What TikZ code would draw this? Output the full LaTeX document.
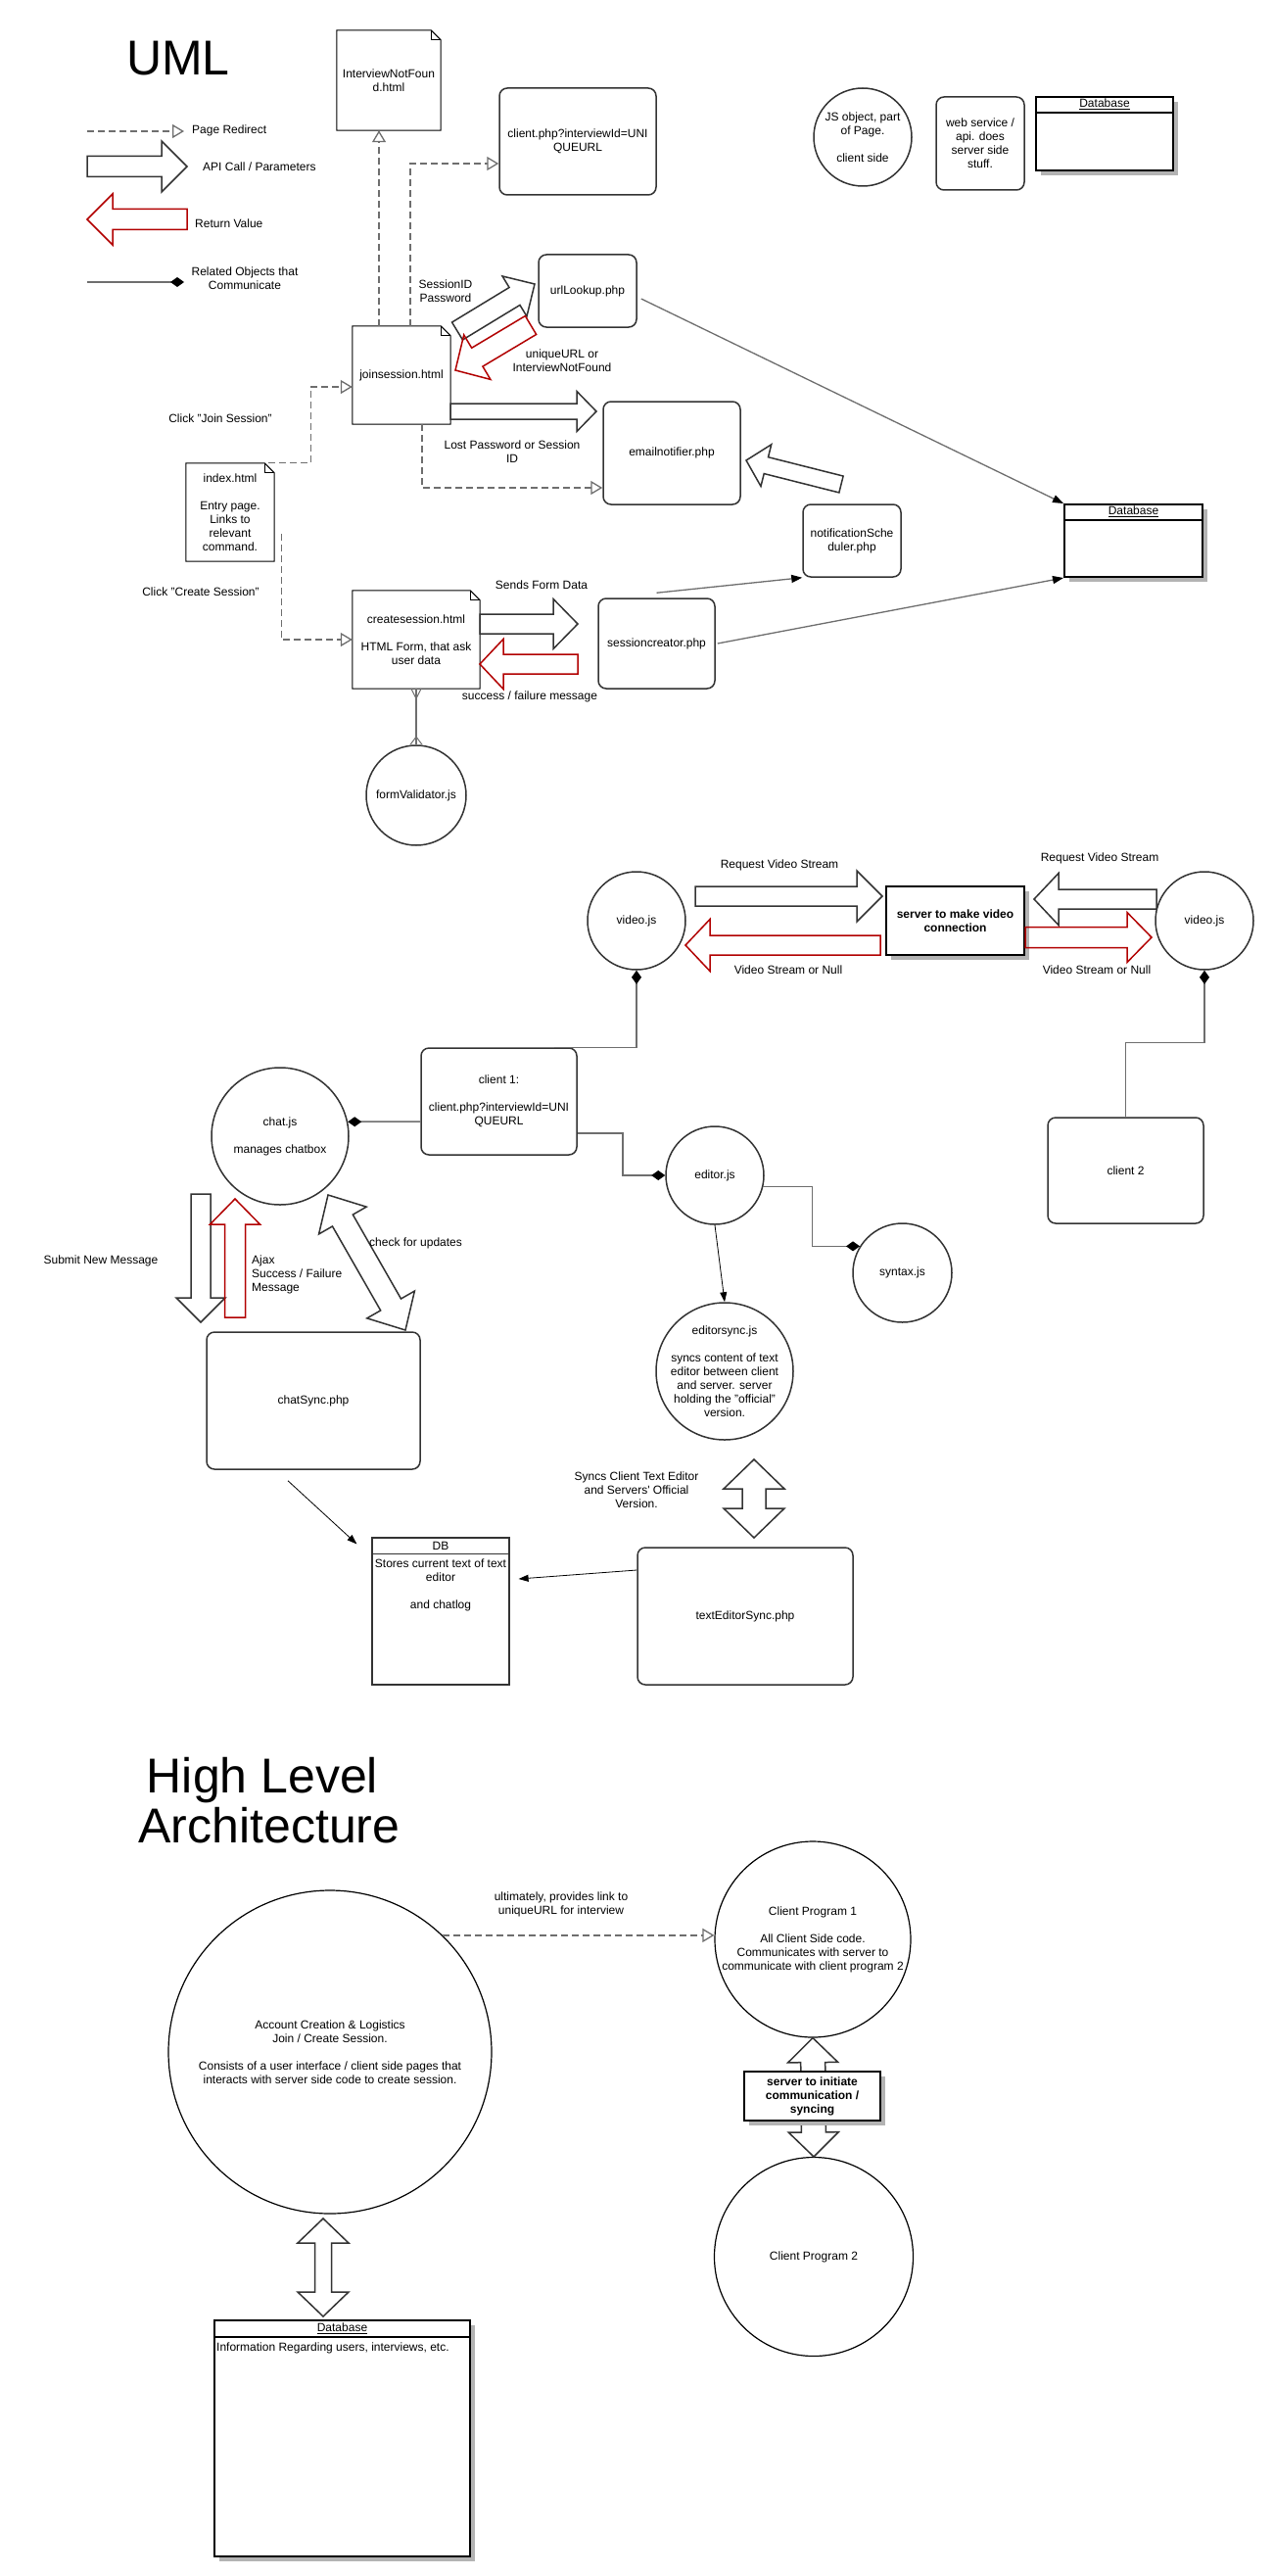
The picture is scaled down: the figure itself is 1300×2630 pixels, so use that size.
\documentclass[tikz,border=0pt]{standalone}
\usepackage{fontspec}
\setmainfont{Liberation Sans}
\usetikzlibrary{arrows.meta,calc,shadows}

\definecolor{boxline}{RGB}{51,51,51}
\definecolor{linegray}{RGB}{110,110,110}
\definecolor{retred}{RGB}{178,0,0}
\definecolor{shade}{RGB}{179,179,179}

\tikzset{
  service/.style={draw=boxline, line width=1.5pt, rounded corners=8pt, fill=white},
  page/.style={inner sep=0pt},
  noteline/.style={draw=black, line width=1pt},
  jsobj/.style={circle, draw=boxline, line width=1.5pt},
  bigcircle/.style={circle, draw=black, line width=1.2pt},
  dbbox/.style={draw=black, line width=2pt, fill=white,
    drop shadow={shadow xshift=5pt, shadow yshift=-5pt, fill=shade, opacity=1}},
  serverbox/.style={dbbox, font=\fontsize{12}{14}\selectfont\bfseries},
  plainbox/.style={draw=boxline, line width=1.2pt},
  redirect/.style={draw=linegray, line width=1.3pt, dash pattern=on 7pt off 4pt,
    -{Triangle[open, length=12pt, width=14pt, fill=white]}},
  related/.style={draw=linegray, line width=1.5pt,
    -{Diamond[length=14pt, width=10pt, color=black, fill=black]}},
  feed/.style={draw=linegray, line width=1.3pt, -{Triangle[length=11pt, width=8pt, color=black]}},
  thinarrow/.style={draw=black, line width=0.8pt, -{Triangle[length=10pt, width=7pt]}},
  apiarrow/.style={draw=boxline, line width=1.5pt},
  retarrow/.style={draw=retred, line width=1.5pt}
}

% page with folded corner
\newcommand\notefold[1]{%
  \draw[noteline] (#1.south west) -- (#1.north west) -- ([xshift=-10pt]#1.north east)
    -- ([yshift=-10pt]#1.north east) -- (#1.south east) -- cycle;
  \draw[noteline] ([xshift=-10pt]#1.north east) -- ([shift={(-10pt,-10pt)}]#1.north east)
    -- ([yshift=-10pt]#1.north east);}

% block arrow: style, from, to, body half, head half, head length
\newcommand\blockarrow[6][]{%
  \coordinate (ba-h) at ($(#3)!#6pt!(#2)$);
  \draw[#1] ($(#2)!#4pt!90:(#3)$) -- ($(ba-h)!#4pt!90:(#3)$) -- ($(ba-h)!#5pt!90:(#3)$) -- (#3)
    -- ($(ba-h)!#5pt!-90:(#3)$) -- ($(ba-h)!#4pt!-90:(#3)$) -- ($(#2)!#4pt!-90:(#3)$) -- cycle;}

\newcommand\doublearrow[6][]{%
  \coordinate (da-h) at ($(#3)!#6pt!(#2)$);
  \coordinate (da-t) at ($(#2)!#6pt!(#3)$);
  \draw[#1] (#2) -- ($(da-t)!#5pt!90:(#3)$) -- ($(da-t)!#4pt!90:(#3)$) -- ($(da-h)!#4pt!90:(#3)$)
    -- ($(da-h)!#5pt!90:(#3)$) -- (#3) -- ($(da-h)!#5pt!-90:(#3)$) -- ($(da-h)!#4pt!-90:(#3)$)
    -- ($(da-t)!#4pt!-90:(#3)$) -- ($(da-t)!#5pt!-90:(#3)$) -- cycle;}

\begin{document}
\begin{tikzpicture}[x=1pt, y=-1pt,
  every node/.style={font=\fontsize{12}{14}\selectfont, inner sep=0pt, align=center}]
  \fill[white] (0,0) rectangle (1300,2630);
  \useasboundingbox (0,0) rectangle (1300,2630);

  % ---- UML legend
  \node[anchor=base, font=\fontsize{50}{52}\selectfont] (umltitle) at (182,77) {UML};
  \coordinate (redirA) at (89,134);
  \coordinate (redirB) at (188,134);
  \draw[redirect] (redirA) -- (redirB);
  \node[anchor=west] (redirtxt) at (196,133) {Page Redirect};
  \coordinate (apiA) at (89,170);
  \coordinate (apiB) at (191,170);
  \blockarrow[apiarrow]{apiA}{apiB}{10.5}{26}{26}
  \node[anchor=west] (apitxt) at (207,170) {API Call / Parameters};
  \coordinate (retA) at (191,224);
  \coordinate (retB) at (89,224);
  \blockarrow[retarrow]{retA}{retB}{10.5}{26}{26}
  \node[anchor=west] (rettxt) at (199,228) {Return Value};
  \coordinate (relA) at (89,288);
  \coordinate (relB) at (188,288);
  \draw[related] (relA) -- (relB);
  \node (reltxt) at (250,284) {Related Objects that\\Communicate};

  \node[jsobj, minimum size=100] (jsleg) at (881,140) {};
  \node (jslegtxt) at (jsleg.center) {JS object, part\\of Page.\\[14pt]client side};
  \node[service, minimum width=90, minimum height=95] (wsleg) at (1001,146.5) {web service /\\api. does\\server side\\stuff.};
  \node[dbbox, minimum width=140, minimum height=75] (dbleg) at (1128,136.5) {};
  \draw[black, line width=2pt] ([yshift=-17pt]dbleg.north west) -- ([yshift=-17pt]dbleg.north east);
  \node (dbleghead) at ([yshift=-8.5pt]dbleg.north) {\underline{Database}};

  % ---- join / create session
  \node[page, minimum width=106, minimum height=102] (notfound) at (397,82) {InterviewNotFoun\\d.html};
  \notefold{notfound}
  \node[service, minimum width=160, minimum height=109] (clientphp) at (590,144.5) {client.php?interviewId=UNI\\QUEURL};
  \node[service, minimum width=100, minimum height=74] (urllookup) at (600,297) {urlLookup.php};
  \node[page, minimum width=100, minimum height=100] (joinsess) at (410,383) {joinsession.html};
  \notefold{joinsess}
  \node[service, minimum width=140, minimum height=105] (emailnot) at (686,462.5) {emailnotifier.php};
  \node[page, minimum width=90, minimum height=100] (index) at (235,523) {index.html\\[14pt]Entry page.\\Links to\\relevant\\command.};
  \notefold{index}
  \node[page, minimum width=130, minimum height=100] (createsess) at (425,653) {createsession.html\\[14pt]HTML Form, that ask\\user data};
  \notefold{createsess}
  \node[service, minimum width=119, minimum height=92] (sesscreator) at (670.5,657) {sessioncreator.php};
  \node[service, minimum width=100, minimum height=74] (notifsched) at (870,552) {notificationSche\\duler.php};
  \node[dbbox, minimum width=141, minimum height=74] (dbtop) at (1157.5,552) {};
  \draw[black, line width=2pt] ([yshift=-17pt]dbtop.north west) -- ([yshift=-17pt]dbtop.north east);
  \node (dbtophead) at ([yshift=-8.5pt]dbtop.north) {\underline{Database}};
  \node[jsobj, minimum size=102] (formval) at (425,812) {formValidator.js};

  \draw[redirect] ([xshift=-23pt]joinsess.north) -- ([xshift=-10pt]notfound.south);
  \draw[redirect] ([xshift=9pt]joinsess.north) |- ([yshift=-22.5pt]clientphp.west);
  \draw[redirect] ([xshift=-6pt]index.north east) -- ++(43,0) |- ([yshift=-12pt]joinsess.west);
  \draw[redirect] ([shift={(7pt,-22pt)}]index.east) |- (createsess.west);
  \draw[redirect] ([xshift=21pt]joinsess.south) |- ([yshift=-35.5pt]emailnot.west);

  \coordinate (sidA) at (467,338);
  \coordinate (sidB) at (546,290);
  \blockarrow[apiarrow]{sidA}{sidB}{10.5}{24}{24}
  \coordinate (uidA) at (542,332);
  \coordinate (uidB) at (465,378);
  \blockarrow[retarrow]{uidA}{uidB}{11}{26.5}{26}
  \coordinate (lostA) at (460,420);
  \coordinate (lostB) at (609,420);
  \blockarrow[apiarrow]{lostA}{lostB}{8}{20.5}{20}
  \coordinate (formA) at (490,637);
  \coordinate (formB) at (590,637);
  \blockarrow[apiarrow]{formA}{formB}{10}{25.5}{25}
  \coordinate (succA) at (590,678);
  \coordinate (succB) at (490,678);
  \blockarrow[retarrow]{succA}{succB}{10}{25.5}{24}
  \coordinate (schedA) at (859,494.5);
  \coordinate (schedB) at (762,470);
  \blockarrow[apiarrow]{schedA}{schedB}{8.7}{22}{21}

  \draw[feed] ([shift={(4pt,-8pt)}]urllookup.east) -- (dbtop.north west);
  \draw[feed] ([xshift=2pt]sesscreator.east) -- (dbtop.south west);
  \draw[feed] ([yshift=5pt]sesscreator.north) -- (notifsched.south west);

  \draw[linegray, line width=1.3pt] (createsess.south) -- (formval.north);
  \draw[linegray, line width=1pt] ([xshift=-5pt]createsess.south) -- ([yshift=-10pt]createsess.south) -- ([xshift=5pt]createsess.south);
  \draw[linegray, line width=1pt] ([xshift=-6pt]formval.north) -- ([yshift=8pt]formval.north) -- ([xshift=6pt]formval.north);

  \node (sidtxt) at (455,297.5) {SessionID\\Password};
  \node (uidtxt) at (574,368) {uniqueURL or\\InterviewNotFound};
  \node (jointxt) at (225,427) {Click "Join Session"};
  \node (createtxt) at (205,604) {Click "Create Session"};
  \node (losttxt) at (523,461) {Lost Password or Session\\ID};
  \node (formtxt) at (553,597) {Sends Form Data};
  \node (succtxt) at (541,711) {success / failure message};

  % ---- client page
  \node[jsobj, minimum size=100] (video1) at (650,940) {video.js};
  \node[serverbox, minimum width=141, minimum height=70] (server1) at (975.5,940) {server to make video\\connection};
  \node[jsobj, minimum size=100] (video2) at (1230,940) {video.js};
  \coordinate (vreqA) at (710,915);
  \coordinate (vreqB) at (901,915);
  \blockarrow[apiarrow]{vreqA}{vreqB}{10}{26}{26}
  \coordinate (vretA) at (899,965);
  \coordinate (vretB) at (700,965);
  \blockarrow[retarrow]{vretA}{vretB}{10}{26.5}{25}
  \coordinate (wreqA) at (1181,918);
  \coordinate (wreqB) at (1056,918);
  \blockarrow[apiarrow]{wreqA}{wreqB}{10}{26.5}{25}
  \coordinate (wretA) at (1047,957);
  \coordinate (wretB) at (1176,957);
  \blockarrow[retarrow]{wretA}{wretB}{10.5}{25.5}{25}
  \node (vreqtxt) at (796,883) {Request Video Stream};
  \node (vrettxt) at (805,990) {Video Stream or Null};
  \node (wreqtxt) at (1123,876) {Request Video Stream};
  \node (wrettxt) at (1120,990) {Video Stream or Null};

  \node[service, minimum width=159, minimum height=109] (client1) at (509.5,1124.5) {client 1:\\[14pt]client.php?interviewId=UNI\\QUEURL};
  \node[service, minimum width=159, minimum height=108] (client2) at (1149.5,1195) {client 2};
  \node[jsobj, minimum size=140] (chatjs) at (286,1160) {chat.js\\[14pt]manages chatbox};
  \node[jsobj, minimum size=100] (editorjs) at (730,1200) {editor.js};
  \node[jsobj, minimum size=101] (syntaxjs) at (921.5,1299.5) {syntax.js};
  \node[jsobj, minimum size=140] (editorsync) at (740,1400) {};
  \node (editorsynctxt) at (editorsync.center) {editorsync.js\\[14pt]syncs content of text\\editor between client\\and server. server\\holding the "official"\\version.};
  \node[service, minimum width=218, minimum height=140] (chatsync) at (320,1430) {chatSync.php};
  \node[service, minimum width=220, minimum height=140] (texteditsync) at (761,1650) {textEditorSync.php};
  \node[plainbox, minimum width=140, minimum height=150] (dbmid) at (450,1645) {};
  \draw[boxline, line width=1.2pt] ([yshift=-17pt]dbmid.north west) -- ([yshift=-17pt]dbmid.north east);
  \node (dbmidhead) at ([yshift=-8.5pt]dbmid.north) {DB};
  \node (dbmidtxt) at (450,1618) {Stores current text of text\\editor\\[14pt]and chatlog};

  \draw[related] ([xshift=56.5pt]client1.north) -| (video1.south);
  \draw[related] (client2.north) -- ++(0,-76) -| (video2.south);
  \draw[related] ([yshift=-20.5pt]client1.west) -- (chatjs.12);
  \draw[related] ([yshift=-32.5pt]client1.east) -- ++(46,0) |- (editorjs.west);
  \draw[related] (editorjs.347) -- ++(50,0) |- (syntaxjs.148);
  \draw[thinarrow] (editorjs.south) -- (editorsync.north);

  \coordinate (submA) at (205,1219);
  \coordinate (submB) at (205,1350);
  \blockarrow[apiarrow]{submA}{submB}{10}{25}{25}
  \coordinate (ajaxA) at (240,1345);
  \coordinate (ajaxB) at (240,1224);
  \blockarrow[retarrow]{ajaxA}{ajaxB}{10.5}{25.5}{26}
  \coordinate (checkA) at (414,1358);
  \coordinate (checkB) at (335,1220);
  \doublearrow[apiarrow]{checkA}{checkB}{12}{28}{30}
  \node (submtxt) at (103,1287) {Submit New Message};
  \node[anchor=west, align=left] (ajaxtxt) at (257,1301) {Ajax\\Success / Failure\\Message};
  \node[anchor=west] (checktxt) at (377,1269) {check for updates};

  \draw[thinarrow] ([shift={(-26pt,-11pt)}]chatsync.south) -- ([shift={(-15pt,-7pt)}]dbmid.north west);
  \draw[thinarrow] ([yshift=47pt]texteditsync.west) -- ([shift={(9pt,33pt)}]dbmid.east);
  \coordinate (syncA) at (770,1570);
  \coordinate (syncB) at (770,1490);
  \doublearrow[apiarrow]{syncA}{syncB}{12}{31}{30}
  \node (synctxt) at (650,1521) {Syncs Client Text Editor\\and Servers\textquotesingle{} Official\\Version.};

  % ---- high level architecture
  \node[anchor=base, font=\fontsize{50}{52}\selectfont] (hightitle) at (268,1830) {High Level};
  \node[anchor=base, font=\fontsize{50}{52}\selectfont] (archtitle) at (275,1881) {Architecture};
  \node[bigcircle, minimum size=330] (account) at (337,2095) {Account Creation \& Logistics\\Join / Create Session.\\[14pt]Consists of a user interface / client side pages that\\interacts with server side code to create session.};
  \node[bigcircle, minimum size=200] (cp1) at (830,1980) {};
  \node (cp1txt) at (cp1.center) {Client Program 1\\[14pt]All Client Side code.\\Communicates with server to\\communicate with client program 2};
  \node[bigcircle, minimum size=203] (cp2) at (831,2304) {Client Program 2};
  \draw[redirect] (account.46) -- (account.46 -| cp1.west);
  \node (linktxt) at (573,1944) {ultimately, provides link to\\uniqueURL for interview};
  \doublearrow[apiarrow]{cp2.north}{cp1.south}{12.5}{25.5}{25}
  \node[serverbox, minimum width=139, minimum height=50] (server2) at (829.5,2140) {server to initiate\\communication /\\syncing};

  \node[dbbox, minimum width=261, minimum height=241] (dbbottom) at (349.5,2489.5) {};
  \draw[black, line width=2pt] ([yshift=-18pt]dbbottom.north west) -- ([yshift=-18pt]dbbottom.north east);
  \node (dbbothead) at ([yshift=-9pt]dbbottom.north) {\underline{Database}};
  \node[anchor=west] (dbbottxt) at (221,2397) {Information Regarding users, interviews, etc.};
  \coordinate (infoA) at (330,2365);
  \coordinate (infoB) at (330,2265);
  \doublearrow[apiarrow]{infoA}{infoB}{8.5}{26}{25}
\end{tikzpicture}
\end{document}
